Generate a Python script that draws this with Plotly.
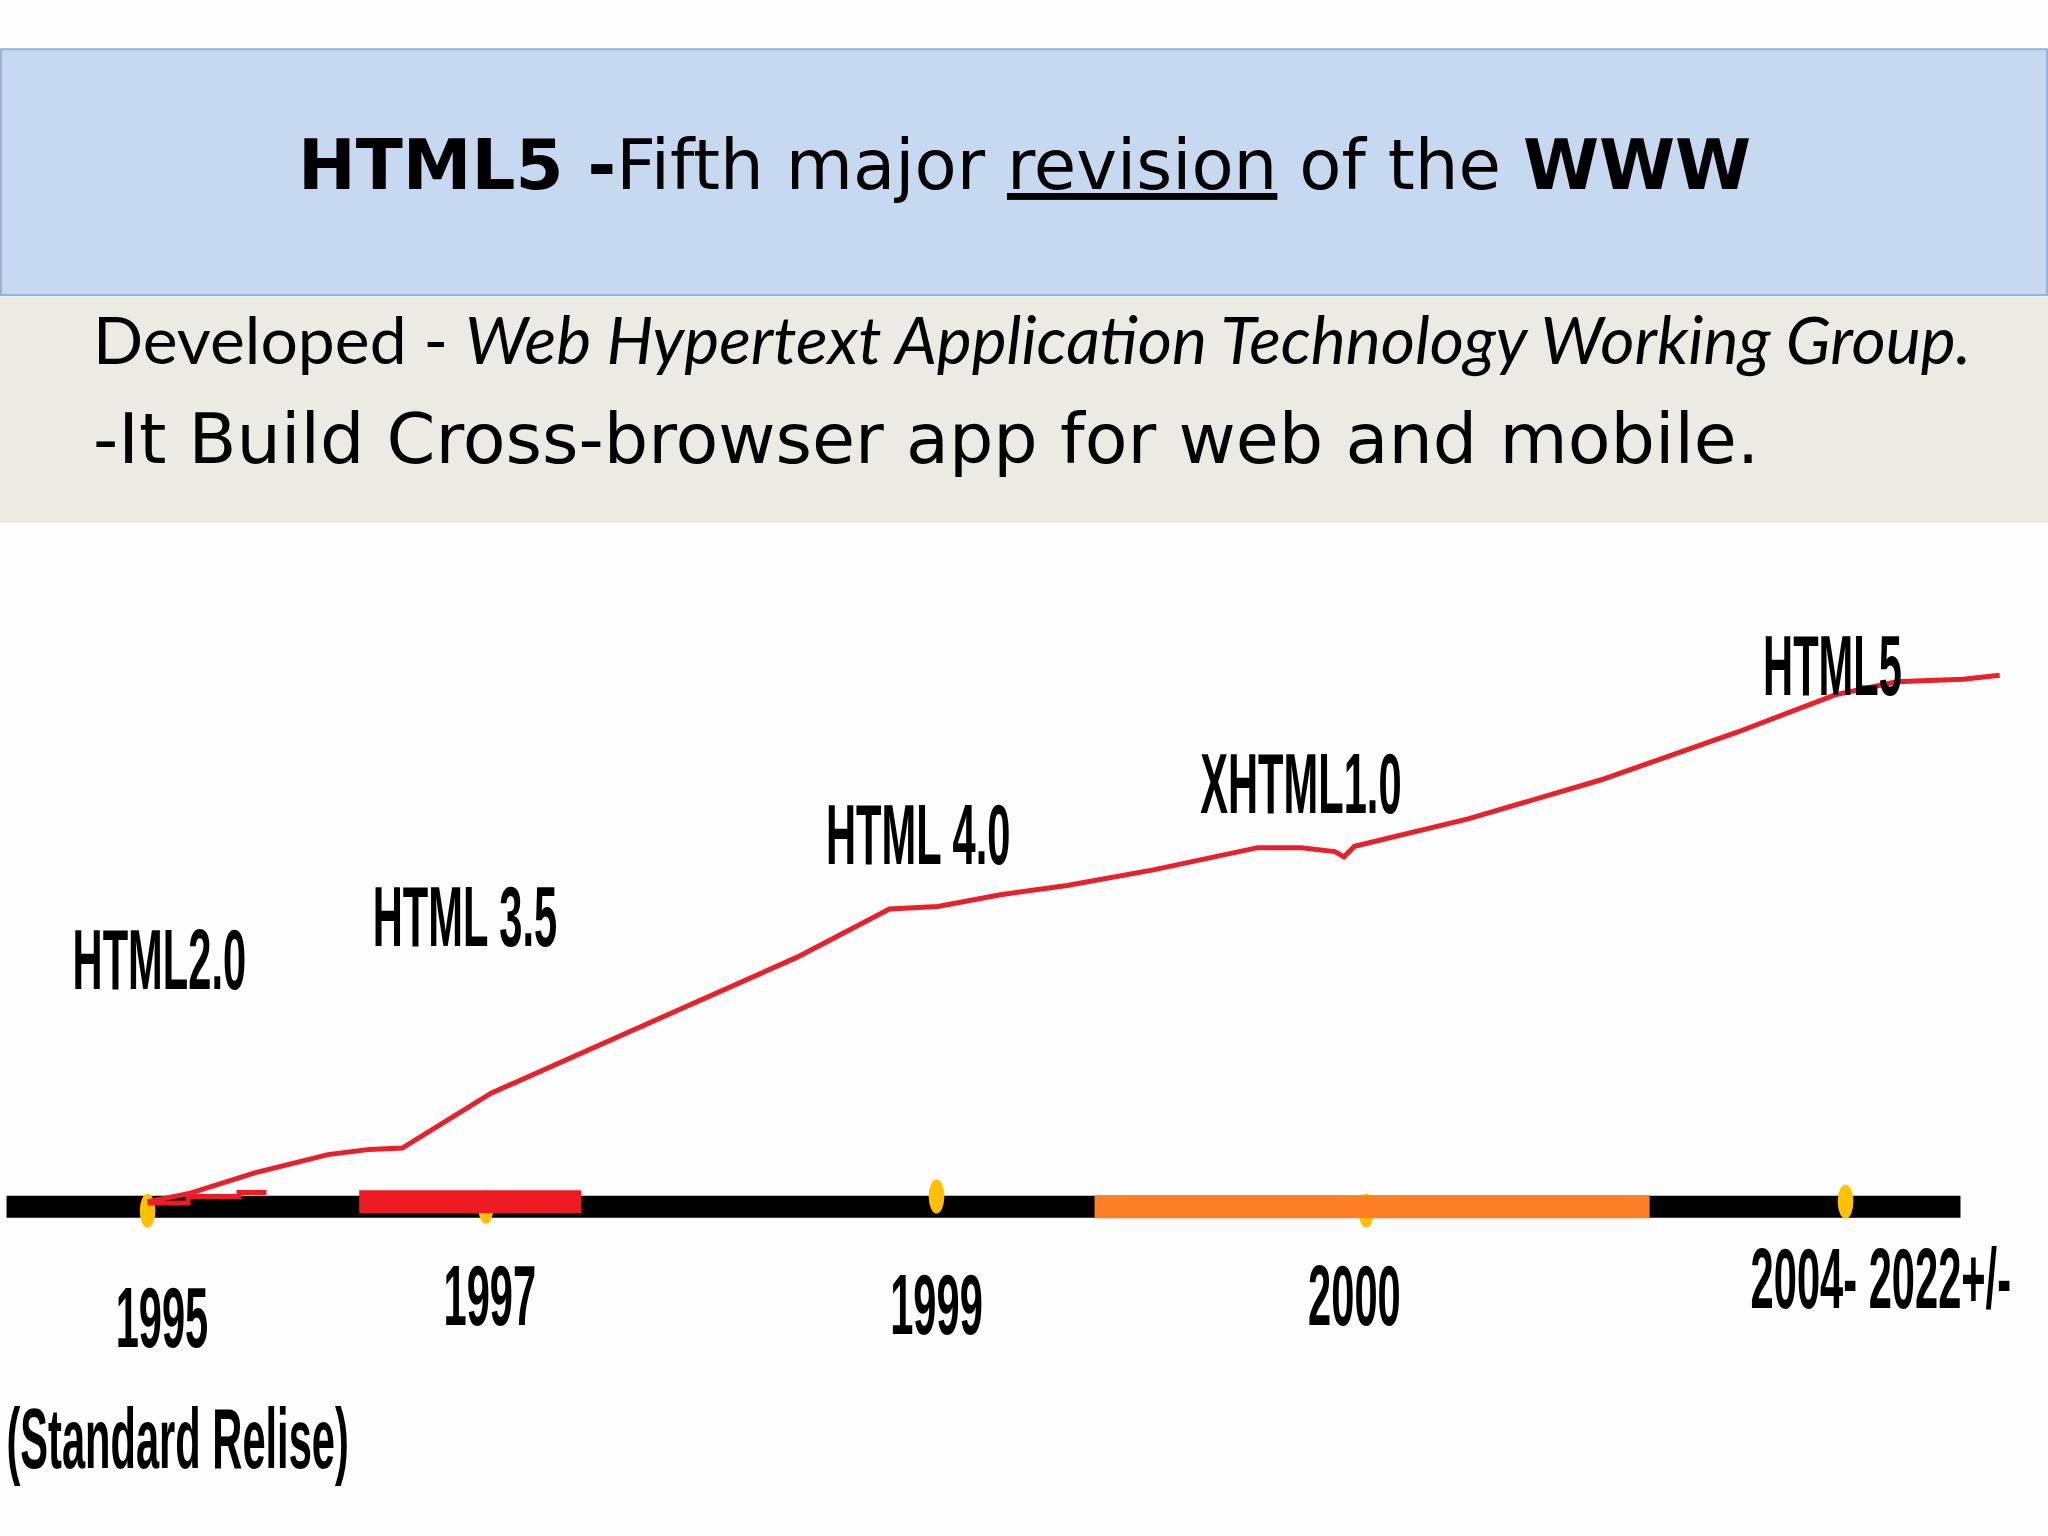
import plotly.graph_objects as go

"""
HTML5 slide: title bands on top, a timeline with a growth line below
"""

# x runs along the time bar, y is the height above the bar (same units for both)
growth_x = [113, 144, 195, 251, 283, 308, 376, 488, 610, 681, 718, 766, 817, 883,
            963, 996, 1022, 1029, 1037, 1124, 1226, 1329, 1405, 1452, 1503, 1531]
growth_y = [4, 10, 26, 40, 44, 45, 87, 137, 191, 228, 230, 239, 246, 258,
            275, 275, 272, 268, 276, 297, 327, 363, 392, 402, 404, 407]

branch_x = [113, 144, 181, 183, 204]
branch_y = [3, 8, 8, 11, 11]

bar_span = [5, 1501]
red_span = [275, 445]
red_level = 4
orange_span = [838, 1263]

milestone_x = [113, 372, 717, 1046, 1413]
milestone_y = [-3, 0, 8, -3, 4]

version_labels = ["HTML2.0", "HTML 3.5", "HTML 4.0", "XHTML1.0", "HTML5"]
version_x = [122, 356, 703, 996, 1403]
version_y = [183, 216, 279, 318, 408]

year_labels = ["1995", "1997", "1999", "2000", "2004- 2022+/-", "(Standard Relise)"]
year_x = [124, 375, 717, 1037, 1440, 136]
year_y = [-91, -74, -81, -74, -61, -184]

title_text = "<b>HTML5 -</b>Fifth major <u>revision</u> of the <b>WWW</b>"
line_one = "Developed - <i>Web Hypertext Application Technology Working Group.</i>"
line_two = "-It Build Cross-browser app for web and mobile."

label_font = dict(family="Liberation Sans", size=85, color="#000000", weight="bold")

fig = go.Figure()

# coloured pieces sitting on the black bar
fig.add_trace(go.Scatter(x=red_span, y=[red_level, red_level], mode="lines",
                         line=dict(color="#ED1C24", width=23), hoverinfo="skip"))
fig.add_trace(go.Scatter(x=orange_span, y=[0, 0], mode="lines",
                         line=dict(color="#FF7F27", width=23), hoverinfo="skip"))

# the red growth line and its little branch at 1995
fig.add_trace(go.Scatter(x=branch_x, y=branch_y, mode="lines", line_shape="hv",
                         line=dict(color="#ED1C24", width=5), hoverinfo="skip"))
fig.add_trace(go.Scatter(x=growth_x, y=growth_y, mode="lines",
                         line=dict(color="#E8202A", width=5), hoverinfo="skip"))

fig.add_trace(go.Scatter(x=version_x, y=version_y, mode="text", text=version_labels,
                         textposition="middle center", textfont=label_font, hoverinfo="skip"))
fig.add_trace(go.Scatter(x=year_x, y=year_y, mode="text", text=year_labels,
                         textposition="middle center", textfont=label_font, hoverinfo="skip"))

shapes = [
    # blue title band and beige subtitle band
    dict(type="rect", xref="paper", yref="paper", x0=0.0005, x1=0.9995, y0=0.808, y1=0.968,
         fillcolor="#C6D9F0", line=dict(color="#95B3D7", width=2), layer="below"),
    dict(type="rect", xref="paper", yref="paper", x0=0, x1=1, y0=0.6595, y1=0.807,
         fillcolor="#ECEBE3", line=dict(width=0), layer="below"),
    # black time bar
    dict(type="line", xref="x", yref="y", x0=bar_span[0], x1=bar_span[1], y0=0, y1=0,
         line=dict(color="#000000", width=22), layer="below"),
]
for mx, my in zip(milestone_x, milestone_y):
    shapes.append(dict(type="circle", xref="x", yref="y", x0=mx - 6, x1=mx + 6,
                       y0=my - 13, y1=my + 13, fillcolor="#FFC000",
                       line=dict(width=0), layer="below"))

annotations = [
    dict(text=title_text, xref="paper", yref="paper", x=0.5, y=0.8926,
         xanchor="center", yanchor="middle", showarrow=False,
         font=dict(family="DejaVu Sans", size=69, color="#000000")),
    dict(text=line_one, xref="paper", yref="paper", x=0.0445, y=0.7795,
         xanchor="left", yanchor="middle", showarrow=False,
         font=dict(family="Lato", size=66, color="#000000")),
    dict(text=line_two, xref="paper", yref="paper", x=0.0445, y=0.7139,
         xanchor="left", yanchor="middle", showarrow=False,
         font=dict(family="DejaVu Sans", size=70, color="#000000")),
]

fig.update_layout(
    width=2048,
    height=1536,
    margin=dict(l=0, r=0, t=0, b=0),
    paper_bgcolor="#FDFDFD",
    plot_bgcolor="rgba(0,0,0,0)",
    showlegend=False,
    shapes=shapes,
    annotations=annotations,
    xaxis=dict(range=[0, 1568], visible=False, fixedrange=True),
    yaxis=dict(range=[-252, 924], visible=False, fixedrange=True),
)

# the slide's timeline labels are a tall, squeezed font: narrow them horizontally
squeeze_js = """
document.body.style.margin = '0';
var gd = document.getElementById('{plot_id}');
function squeeze() {
  gd.querySelectorAll('.textpoint text').forEach(function (t) {
    t.style.transformBox = 'fill-box';
    t.style.transformOrigin = 'center';
    t.style.transform = 'scaleX(0.49)';
  });
}
squeeze();
gd.on('plotly_afterplot', squeeze);
"""

fig.write_html("out.html", post_script=squeeze_js, config={"displayModeBar": False})
